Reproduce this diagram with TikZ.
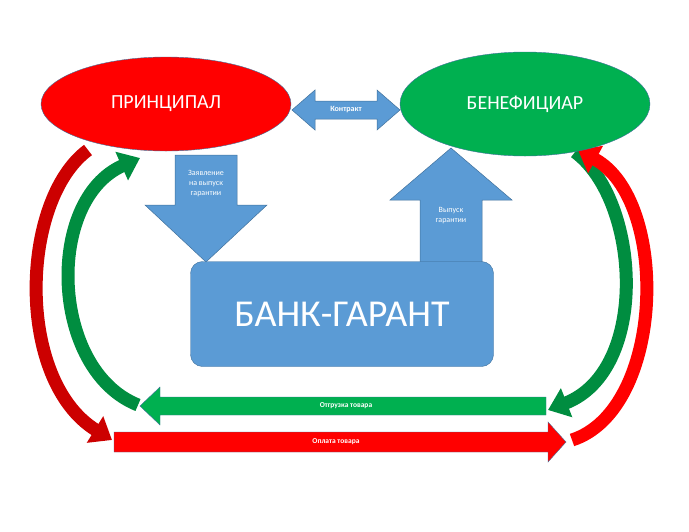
\documentclass[tikz,border=0pt]{standalone}
\usepackage{fontspec}
\setmainfont{Carlito}
\usetikzlibrary{arrows.meta}
\usetikzlibrary{positioning}
\usetikzlibrary{shapes}

\definecolor{bankblue}{HTML}{5B9BD5}
\definecolor{edgeblue}{HTML}{41719C}
\definecolor{pgreen}{HTML}{00B050}
\definecolor{pred}{HTML}{FF0000}

\tikzset{
  party/.style={ellipse, draw=edgeblue, text=white, font=\fontsize{20}{24}\selectfont},
  blockarrow/.style={fill=bankblue, draw=edgeblue, line width=0.5pt},
  note/.style={text=white, font=\fontsize{8}{10}\selectfont, align=center},
  flowlabel/.style={text=white, font=\bfseries\fontsize{7.5}{9}\selectfont},
  curveflow/.style={line width=13pt, -{Triangle[width=30pt,length=20pt]}}
}

\begin{document}
\begin{tikzpicture}[x=1pt, y=-1pt]
\useasboundingbox (0,0) rectangle (689,531);

% curved flows
\draw[curveflow, pred!80!black] (88,150) .. controls (20,200) and (15,380) .. (112,440);
\draw[curveflow, pgreen!80!black] (138,405) .. controls (50,370) and (45,200) .. (140,158);
\draw[curveflow, pgreen!80!black] (575,152) .. controls (640,200) and (650,370) .. (548,410);
\draw[curveflow, pred] (572,440) .. controls (665,410) and (670,200) .. (578,150);

% parties
\node[party, fill=pred, minimum width=250, minimum height=94] (princ) at (166,104) {ПРИНЦИПАЛ};
\node[party, fill=pgreen, minimum width=250, minimum height=104] (benef) at (525,104) {БЕНЕФИЦИАР};

% contract
\fill[blockarrow] (292,110) -- (315,90) -- (315,101) -- (377,101) -- (377,90) -- (400,110)
  -- (377,130) -- (377,119) -- (315,119) -- (315,130) -- cycle;
\node[note, font=\bfseries\fontsize{8}{10}\selectfont] (contract) at (346,110) {Контракт};

% application
\fill[blockarrow] (175,155) -- (237,155) -- (237,205) -- (267,205) -- (206,262) -- (145,205) -- (175,205) -- cycle;
\node[note] (apply) at (206,184) {Заявление\\на выпуск\\гарантии};

% issue
\fill[blockarrow] (420,262) -- (420,200) -- (390,200) -- (451,148) -- (512,200) -- (482,200) -- (482,262) -- cycle;
\node[note] (issue) at (451,216) {Выпуск\\гарантии};

% bank
\node[fill=bankblue, draw=edgeblue, rounded corners=12pt, minimum width=303, minimum height=105,
  text=white, font=\fontsize{38}{44}\selectfont] (bank) at (342,314) {БАНК-ГАРАНТ};

% goods and payment
\fill[pgreen, draw=edgeblue, line width=0.4pt] (140,406) -- (160,387) -- (160,397) -- (546,397) -- (546,415) -- (160,415) -- (160,425) -- cycle;
\node[flowlabel] (goods) at (346,406) {Отгрузка товара};
\fill[pred, draw=edgeblue, line width=0.4pt] (114,432) -- (548,432) -- (548,422) -- (566,442) -- (548,462) -- (548,452) -- (114,452) -- cycle;
\node[flowlabel] (pay) at (336,442) {Оплата товара};
\end{tikzpicture}
\end{document}
